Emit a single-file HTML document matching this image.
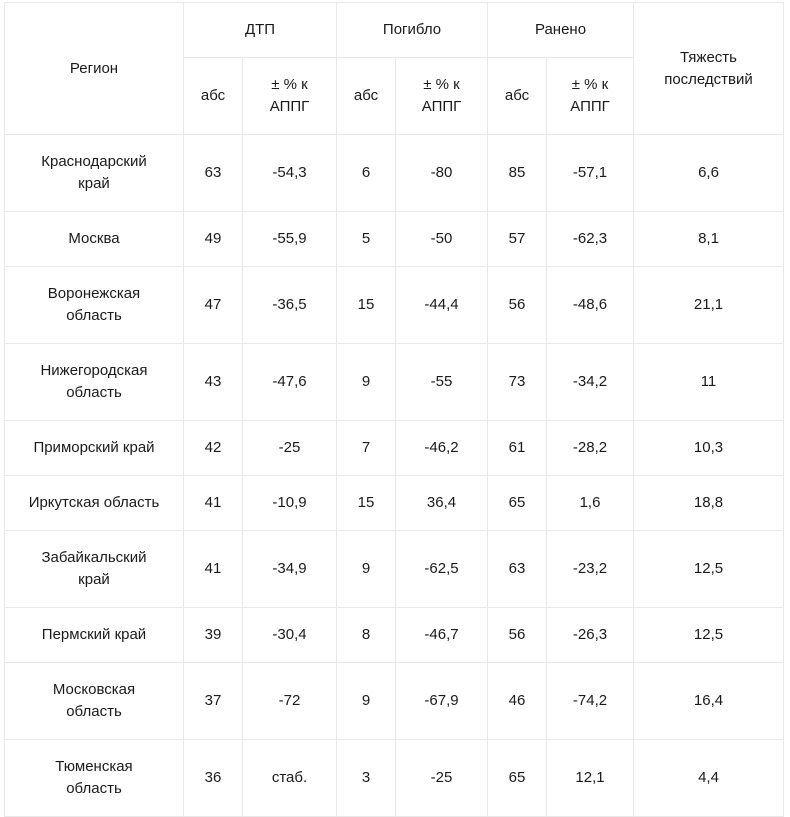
<!DOCTYPE html>
<html><head><meta charset="utf-8"><style>
body{margin:0;background:#fff;width:790px;height:808px;overflow:hidden}
table{position:absolute;left:4px;top:2px;border-collapse:collapse;table-layout:fixed;font-family:"Liberation Sans",sans-serif;font-size:15px;color:#1a1a1a;line-height:22px}
td{border:1px solid #e8e8e8;text-align:center;vertical-align:middle;padding:0 2px;box-sizing:border-box;white-space:nowrap}
</style></head><body>
<table>
<colgroup><col style="width:179px"><col style="width:59px"><col style="width:94px"><col style="width:59px"><col style="width:92px"><col style="width:59px"><col style="width:87px"><col style="width:150px"></colgroup>
<tr style="height:55px"><td rowspan="2">Регион</td><td colspan="2">ДТП</td><td colspan="2">Погибло</td><td colspan="2">Ранено</td><td rowspan="2">Тяжесть<br>последствий</td></tr>
<tr style="height:77px"><td>абс</td><td>± % к<br>АППГ</td><td>абс</td><td>± % к<br>АППГ</td><td>абс</td><td>± % к<br>АППГ</td></tr>
<tr style="height:77px"><td>Краснодарский<br>край</td><td>63</td><td>-54,3</td><td>6</td><td>-80</td><td>85</td><td>-57,1</td><td>6,6</td></tr>
<tr style="height:55px"><td>Москва</td><td>49</td><td>-55,9</td><td>5</td><td>-50</td><td>57</td><td>-62,3</td><td>8,1</td></tr>
<tr style="height:77px"><td>Воронежская<br>область</td><td>47</td><td>-36,5</td><td>15</td><td>-44,4</td><td>56</td><td>-48,6</td><td>21,1</td></tr>
<tr style="height:77px"><td>Нижегородская<br>область</td><td>43</td><td>-47,6</td><td>9</td><td>-55</td><td>73</td><td>-34,2</td><td>11</td></tr>
<tr style="height:55px"><td>Приморский край</td><td>42</td><td>-25</td><td>7</td><td>-46,2</td><td>61</td><td>-28,2</td><td>10,3</td></tr>
<tr style="height:55px"><td>Иркутская область</td><td>41</td><td>-10,9</td><td>15</td><td>36,4</td><td>65</td><td>1,6</td><td>18,8</td></tr>
<tr style="height:77px"><td>Забайкальский<br>край</td><td>41</td><td>-34,9</td><td>9</td><td>-62,5</td><td>63</td><td>-23,2</td><td>12,5</td></tr>
<tr style="height:55px"><td>Пермский край</td><td>39</td><td>-30,4</td><td>8</td><td>-46,7</td><td>56</td><td>-26,3</td><td>12,5</td></tr>
<tr style="height:77px"><td>Московская<br>область</td><td>37</td><td>-72</td><td>9</td><td>-67,9</td><td>46</td><td>-74,2</td><td>16,4</td></tr>
<tr style="height:77px"><td>Тюменская<br>область</td><td>36</td><td>стаб.</td><td>3</td><td>-25</td><td>65</td><td>12,1</td><td>4,4</td></tr>
</table>
</body></html>
